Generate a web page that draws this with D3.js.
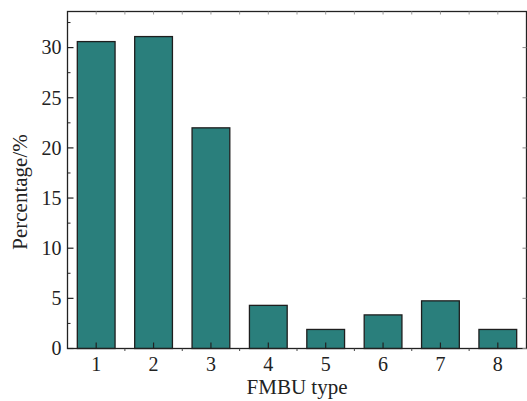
<!DOCTYPE html>
<html>
<head>
<meta charset="utf-8">
<script src="https://cdn.jsdelivr.net/npm/d3@7"></script>
<style>
  body { margin: 0; background: #fff; }
  svg text { font-family: "Liberation Serif", "Times New Roman", serif; fill: #222; }
</style>
</head>
<body>
<div id="chart"></div>
<script>
const categories = ["1", "2", "3", "4", "5", "6", "7", "8"];
const percentages = [30.6, 31.1, 22.0, 4.3, 1.9, 3.35, 4.75, 1.9];
const yTicks = [0, 5, 10, 15, 20, 25, 30];
const yMinorTicks = [2.5, 7.5, 12.5, 17.5, 22.5, 27.5, 32.5];

const width = 527, height = 401;
const margin = {top: 11.5, right: 0.5, bottom: 52.5, left: 67.5};
const plotW = width - margin.left - margin.right;
const plotH = height - margin.top - margin.bottom;

const svg = d3.select("#chart").append("svg")
    .attr("width", width)
    .attr("height", height);

const g = svg.append("g").attr("transform", `translate(${margin.left},${margin.top})`);

const x = d3.scaleBand()
    .domain(categories)
    .range([0, plotW])
    .paddingInner(0.342)
    .paddingOuter(0.171);

const y = d3.scaleLinear().domain([0, 33.6]).range([plotH, 0]);

// bars
g.selectAll("rect.bar")
    .data(percentages)
    .enter().append("rect")
    .attr("class", "bar")
    .attr("x", (d, i) => x(categories[i]))
    .attr("y", d => y(d))
    .attr("width", x.bandwidth())
    .attr("height", d => plotH - y(d))
    .attr("fill", "#2a7f7c")
    .attr("stroke", "#1e1e1e")
    .attr("stroke-width", 1.3);

// frame
g.append("rect")
    .attr("x", 0).attr("y", 0)
    .attr("width", plotW).attr("height", plotH)
    .attr("fill", "none")
    .attr("stroke", "#222")
    .attr("stroke-width", 1.3);

// y axis ticks (inward)
const yAxis = g.append("g").attr("class", "y-axis");
yAxis.selectAll("line.major")
    .data(yTicks).enter().append("line")
    .attr("x1", 0).attr("x2", 6)
    .attr("y1", d => y(d)).attr("y2", d => y(d))
    .attr("stroke", "#222").attr("stroke-width", 1.2);
yAxis.selectAll("line.minor")
    .data(yMinorTicks).enter().append("line")
    .attr("x1", 0).attr("x2", 3)
    .attr("y1", d => y(d)).attr("y2", d => y(d))
    .attr("stroke", "#222").attr("stroke-width", 1);
yAxis.selectAll("text")
    .data(yTicks).enter().append("text")
    .attr("x", -6)
    .attr("y", d => y(d))
    .attr("dy", "0.34em")
    .attr("text-anchor", "end")
    .style("font-size", "20px")
    .text(d => d);

// right axis ticks
g.append("g").selectAll("line")
    .data(yTicks).enter().append("line")
    .attr("x1", plotW).attr("x2", plotW - 4)
    .attr("y1", d => y(d)).attr("y2", d => y(d))
    .attr("stroke", "#888").attr("stroke-width", 1);

// x axis ticks
const xAxis = g.append("g").attr("class", "x-axis");
const centers = categories.map(c => x(c) + x.bandwidth() / 2);
const mids = centers.slice(1).map((c, i) => (c + centers[i]) / 2);
xAxis.selectAll("line.major")
    .data(centers).enter().append("line")
    .attr("x1", d => d).attr("x2", d => d)
    .attr("y1", plotH).attr("y2", plotH - 6)
    .attr("stroke", "#222").attr("stroke-width", 1.2);
xAxis.selectAll("line.minor")
    .data(mids).enter().append("line")
    .attr("x1", d => d).attr("x2", d => d)
    .attr("y1", plotH).attr("y2", plotH + 2.5)
    .attr("stroke", "#444").attr("stroke-width", 1);
xAxis.selectAll("text")
    .data(categories).enter().append("text")
    .attr("x", d => x(d) + x.bandwidth() / 2)
    .attr("y", plotH + 22)
    .attr("text-anchor", "middle")
    .style("font-size", "20px")
    .text(d => d);

// top axis ticks
g.append("g").selectAll("line")
    .data(centers.concat(mids)).enter().append("line")
    .attr("x1", d => d).attr("x2", d => d)
    .attr("y1", 0).attr("y2", 3)
    .attr("stroke", "#999").attr("stroke-width", 1);

// axis titles
svg.append("text")
    .attr("x", margin.left + plotW / 2)
    .attr("y", 394)
    .attr("text-anchor", "middle")
    .style("font-size", "21px")
    .text("FMBU type");

svg.append("text")
    .attr("transform", "translate(27,192) rotate(-90)")
    .attr("text-anchor", "middle")
    .style("font-size", "21px")
    .text("Percentage/%");
</script>
</body>
</html>
